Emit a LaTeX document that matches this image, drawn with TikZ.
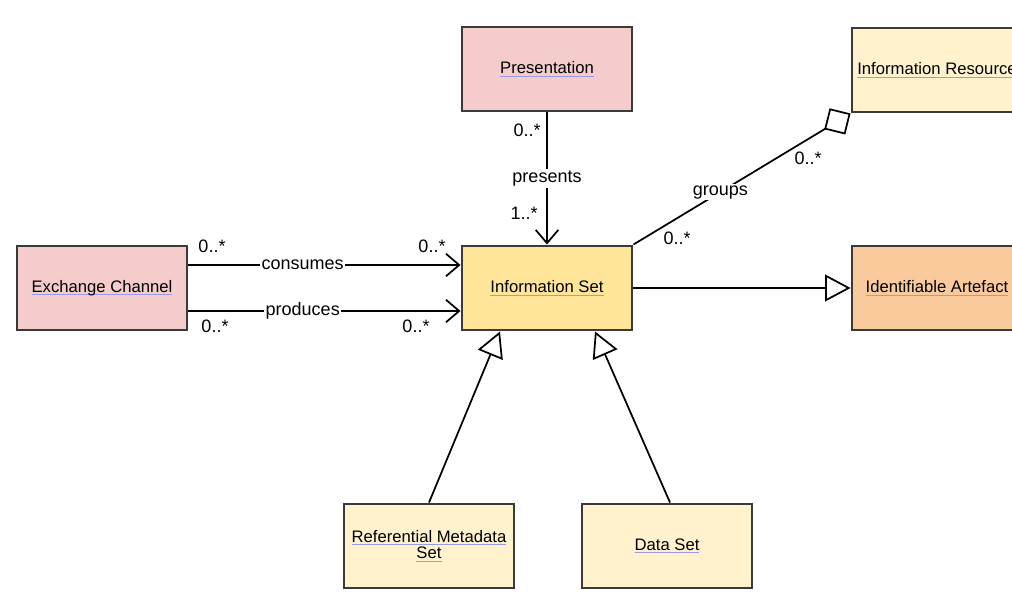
\documentclass[tikz,border=0pt]{standalone}
\usepackage{fontspec}
\setmainfont{Liberation Sans}
\usetikzlibrary{arrows.meta, positioning}

\definecolor{pinkfill}{HTML}{F4CCCC}
\definecolor{creamfill}{HTML}{FFF2CC}
\definecolor{setfill}{HTML}{FFE599}
\definecolor{artefill}{HTML}{F9CB9C}
\definecolor{boxline}{HTML}{3A3A3A}
\definecolor{linkline}{HTML}{9A9AE6}
\newlength{\lnkw}
\newcommand{\lnk}[1]{\settowidth{\lnkw}{#1}\rlap{\textcolor{linkline}{\rule[-2.3pt]{\lnkw}{0.7pt}}}#1}

\begin{document}
\begin{tikzpicture}[
    x=0.75pt, y=-0.75pt,
    font=\fontsize{12.5}{12.5}\selectfont,
    cls/.style={rectangle, draw=boxline, line width=2.2pt, minimum width=127.5pt, minimum height=63pt, align=center, inner sep=2pt},
    assoc/.style={-{Straight Barb[length=10pt,width=17pt]}, line width=1.3pt},
    gen/.style={-{Triangle[open,length=19pt,width=20pt]}, line width=1.3pt},
    agg/.style={-{Diamond[open,length=23pt,width=23pt]}, line width=1.3pt},
    mult/.style={font=\fontsize{13.5}{15}\selectfont, inner sep=1pt},
    role/.style={fill=white, font=\fontsize{13.5}{15}\selectfont, inner sep=1pt}
]
    \clip (0,0) rectangle (1012,605);

    % Classes
    \node[cls, fill=pinkfill] (pres) at (547,69) {\lnk{Presentation}};
    \node[cls, fill=creamfill] (res) at (937,70) {\lnk{Information Resource}};
    \node[cls, fill=pinkfill] (ec) at (102,288) {\lnk{Exchange Channel}};
    \node[cls, fill=setfill] (set) at (547,288) {\lnk{Information Set}};
    \node[cls, fill=artefill] (art) at (937,288) {\lnk{Identifiable Artefact}};
    \node[cls, fill=creamfill] (rms) at (429,546) {\lnk{Referential Metadata}\\\lnk{Set}};
    \node[cls, fill=creamfill] (ds) at (667,546) {\lnk{Data Set}};

    % Associations
    \draw[assoc] (pres.south) -- node[role] (presents) {presents} (set.north);
    \node[mult] (m1) at (527,130) {0..*};
    \node[mult] (m2) at (524,213) {1..*};

    \draw[assoc] ([yshift=17.25pt]ec.east) -- node[role, pos=0.42] (consumes) {consumes} ([yshift=17.25pt]set.west);
    \node[mult] (m3) at (212,246) {0..*};
    \node[mult] (m4) at (432,246) {0..*};

    \draw[assoc] ([yshift=-17.25pt]ec.east) -- node[role, pos=0.42] (produces) {produces} ([yshift=-17.25pt]set.west);
    \node[mult] (m5) at (215,326) {0..*};
    \node[mult] (m6) at (416,326) {0..*};

    \draw[agg] (set.north east) -- node[role, pos=0.4] (groups) {groups} (res.south west);
    \node[mult] (m7) at (677,238) {0..*};
    \node[mult] (m8) at (808,158) {0..*};

    % Generalisations
    \draw[gen] (set.east) -- (art.west);
    \draw[gen] (rms.north) -- ([xshift=-35.25pt]set.south);
    \draw[gen] ([xshift=2.25pt]ds.north) -- ([xshift=36pt]set.south);
\end{tikzpicture}
\end{document}
